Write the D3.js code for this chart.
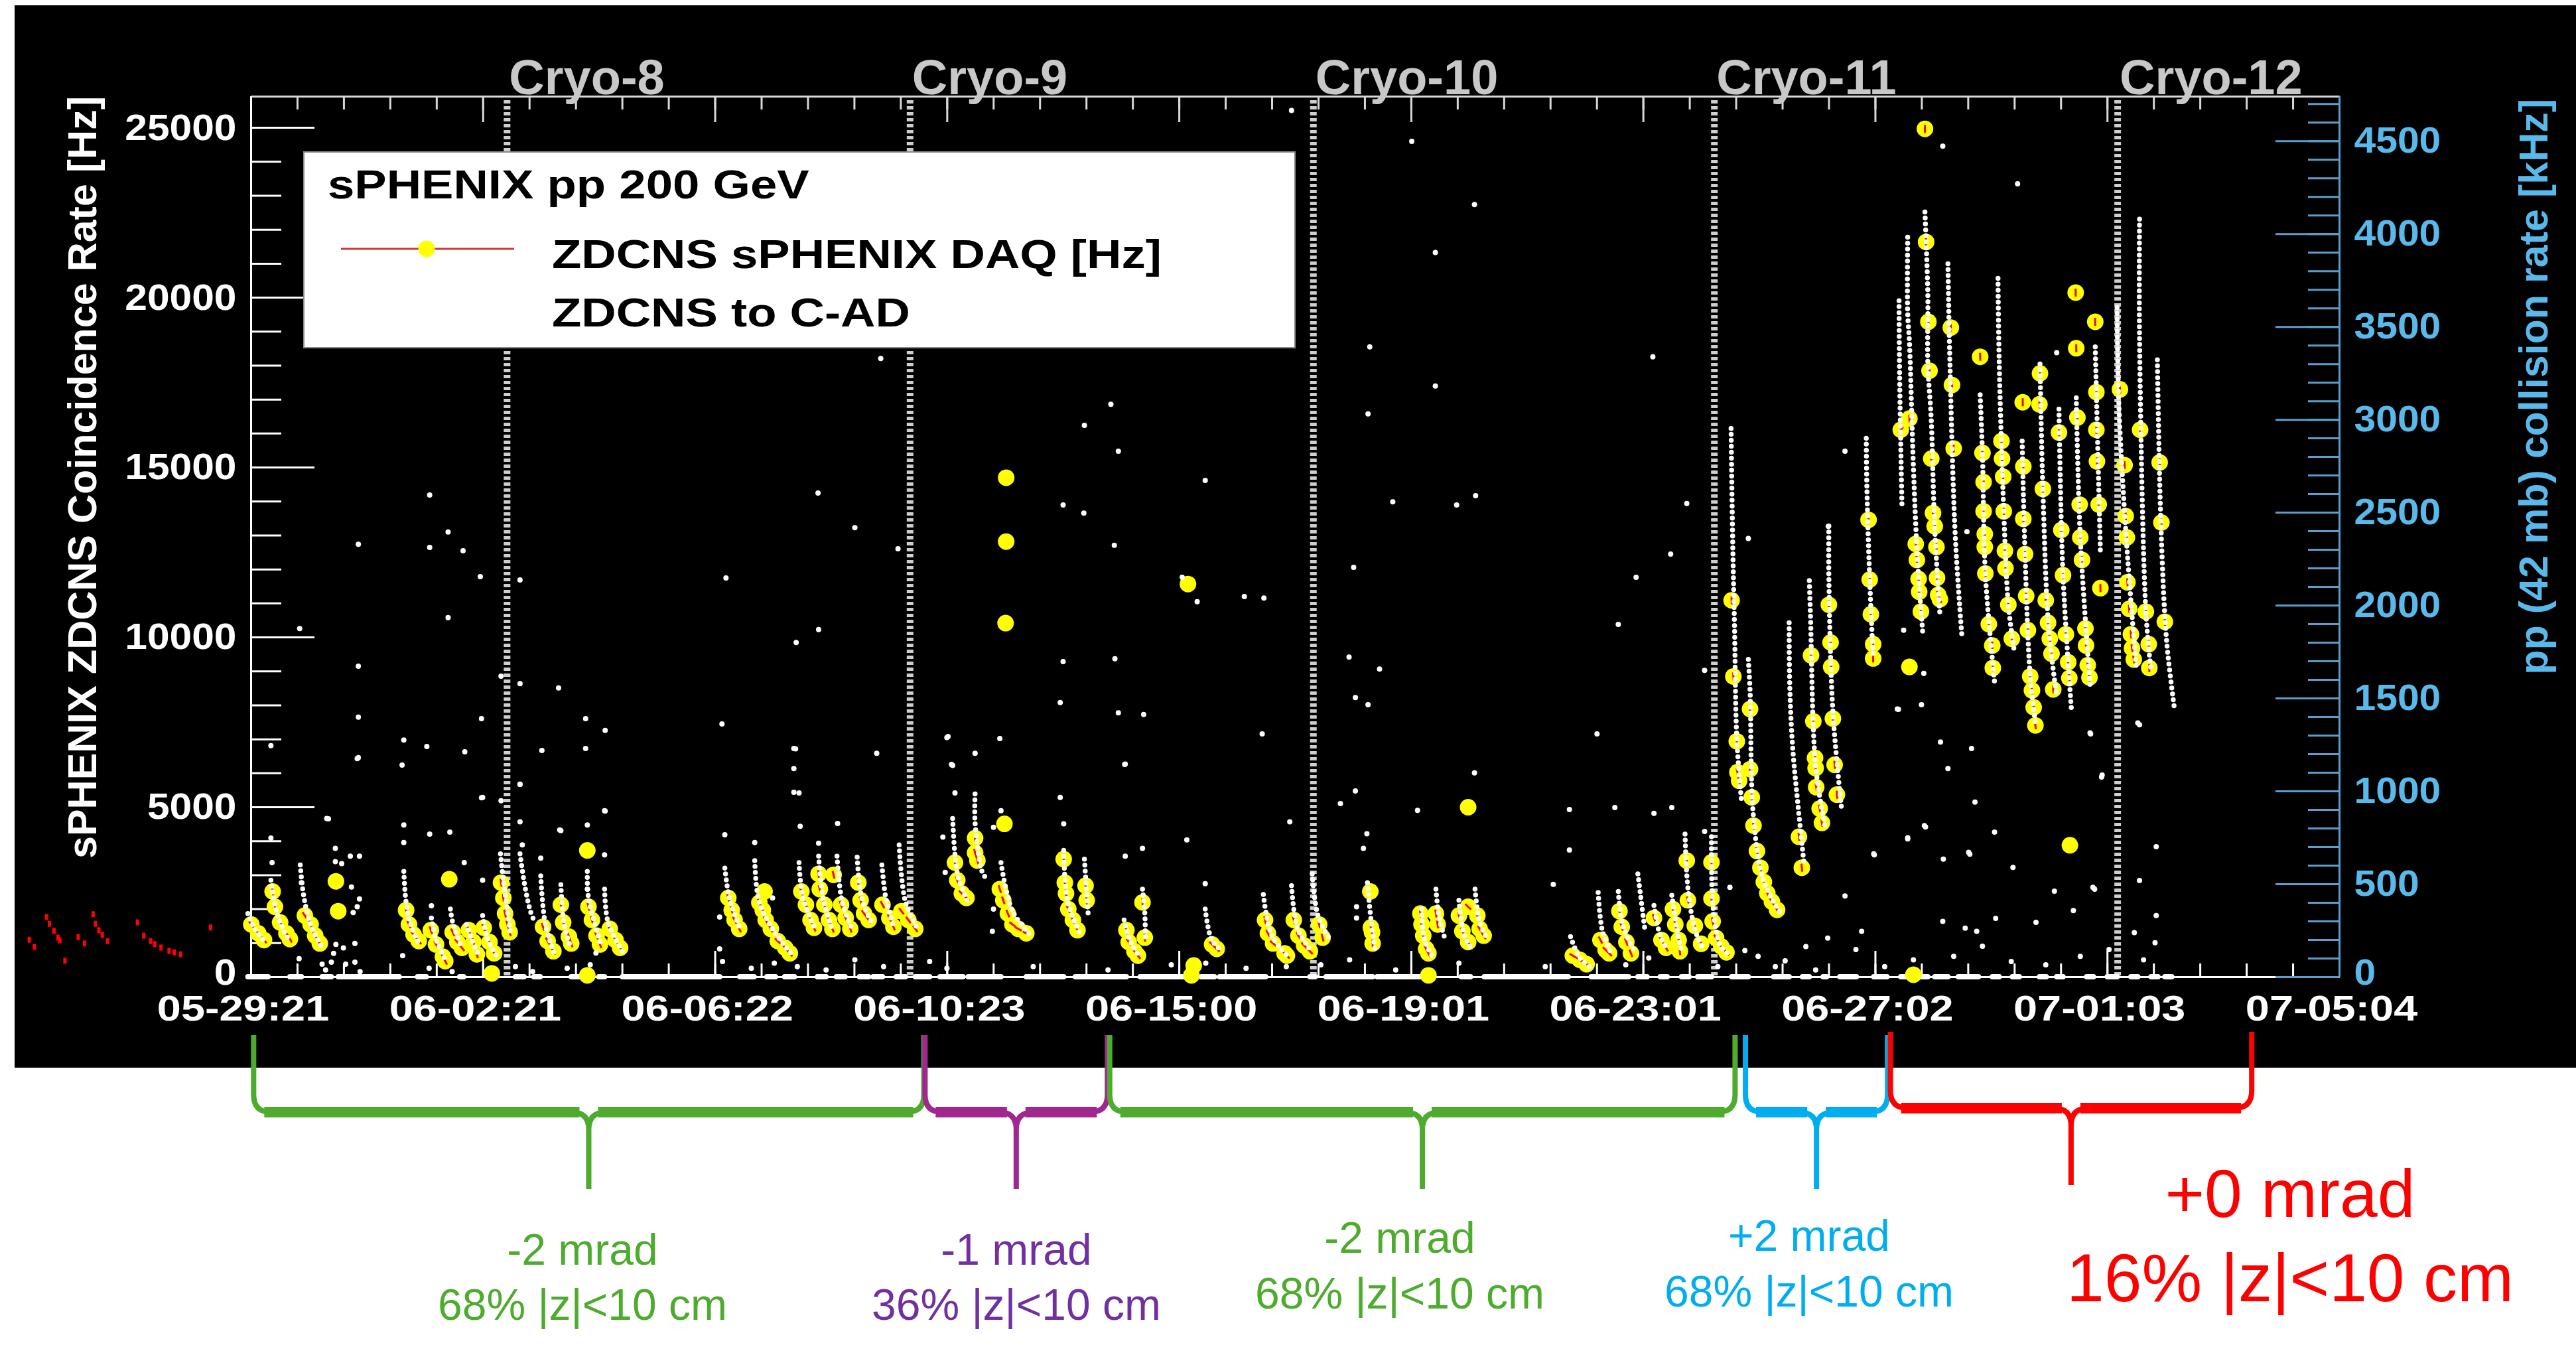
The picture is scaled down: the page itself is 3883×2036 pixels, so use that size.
<!DOCTYPE html>
<html>
<head>
<meta charset="utf-8">
<script src="https://cdn.jsdelivr.net/npm/d3@7"></script>
<style>
  body { margin: 0; background: #fff; }
  svg { display: block; font-family: "Liberation Sans", Arial, Helvetica, sans-serif; }
</style>
</head>
<body>
<svg id="chart"></svg>
<script>
// time is in days since 05-29 21:00, rates in Hz
const xSpanDays = 36.3;
const xTickLabels = ['05-29:21', '06-02:21', '06-06:22', '06-10:23', '06-15:00', '06-19:01', '06-23:01', '06-27:02', '07-01:03', '07-05:04'];
const yLeftTicks = [0, 5000, 10000, 15000, 20000, 25000];
const yRightTicks = [0, 500, 1000, 1500, 2000, 2500, 3000, 3500, 4000, 4500];

const cryoNames = ['Cryo-8', 'Cryo-9', 'Cryo-10', 'Cryo-11', 'Cryo-12'];
const cryoDays = [4.455, 11.46, 18.47, 25.44, 32.45];

const legendEntries = ['sPHENIX pp 200 GeV', 'ZDCNS sPHENIX DAQ [Hz]', 'ZDCNS to C-AD'];

const braceStart = [0.05, 11.72, 14.93, 25.98, 28.50];
const braceEnd = [11.70, 14.89, 25.80, 28.45, 34.78];
const braceAngles = ['-2 mrad', '-1 mrad', '-2 mrad', '+2 mrad', '+0 mrad'];
const braceFractions = ['68% |z|<10 cm', '36% |z|<10 cm', '68% |z|<10 cm', '68% |z|<10 cm', '16% |z|<10 cm'];

// ZDCNS sPHENIX DAQ, grouped by fill
const daqFills = [
    [[0.01,1540],[0.13,1280],[0.23,1080]],
    [[0.38,2510],[0.42,2060],[0.51,1600],[0.62,1280],[0.68,1110]],
    [[0.94,1800],[1.04,1540],[1.12,1210],[1.20,980]],
    [[2.70,1960],[2.75,1540],[2.83,1240],[2.92,1050]],
    [[3.13,1370],[3.22,950],[3.34,590],[3.38,460]],
    [[3.51,1310],[3.59,1020],[3.67,850]],
    [[3.79,1370],[3.87,1020],[3.93,660]],
    [[4.05,1440],[4.15,1020],[4.23,690]],
    [[4.35,2770],[4.39,2320],[4.42,1860],[4.46,1540],[4.50,1310]],
    [[5.08,1470],[5.16,1050],[5.26,750]],
    [[5.39,2120],[5.43,1600],[5.53,1180],[5.57,980]],
    [[5.87,2060],[5.93,1670],[6.01,1210],[6.07,950]],
    [[6.24,1410],[6.34,1080],[6.42,850]],
    [[8.30,2320],[8.36,1960],[8.41,1670],[8.49,1410]],
    [[8.84,2180],[8.90,1960],[8.95,1670],[9.04,1410],[9.16,1050],[9.29,850],[9.37,690]],
    [[9.57,2510],[9.65,2120],[9.73,1670],[9.79,1440]],
    [[9.87,3030],[9.89,2580],[9.97,2120],[10.05,1670],[10.11,1410]],
    [[10.13,3000],[10.26,2120],[10.34,1730],[10.42,1410]],
    [[10.56,2770],[10.60,2250],[10.66,1860],[10.74,1670]],
    [[10.98,2120],[11.10,1730],[11.17,1470]],
    [[11.31,1930],[11.43,1670],[11.55,1410]],
    [[12.24,3360],[12.28,2840],[12.36,2450],[12.44,2320]],
    [[12.59,4080],[12.59,3650],[12.63,3420]],
    [[13.02,2580],[13.08,2250],[13.16,1860],[13.24,1540],[13.34,1410],[13.48,1280]],
    [[14.13,3460],[14.15,2770],[14.17,2450],[14.21,1990],[14.29,1670],[14.37,1370]],
    [[14.51,2680],[14.53,2250]],
    [[15.22,1370],[15.26,1020],[15.36,750],[15.42,620]],
    [[15.50,2190],[15.54,1150]],
    [[16.71,950],[16.79,820]],
    [[17.63,1670],[17.68,1280],[17.77,980],[17.97,690],[18.01,620]],
    [[18.13,1670],[18.21,1210],[18.31,920],[18.41,750]],
    [[18.57,1540],[18.63,1150]],
    [[19.47,1450],[19.49,1310],[19.50,980]],
    [[20.33,1860],[20.35,1540],[20.38,1210],[20.43,820],[20.47,690]],
    [[20.60,1860],[20.63,1540]],
    [[21.00,1800],[21.06,1340],[21.16,1020]],
    [[21.16,2060],[21.32,1800],[21.36,1410],[21.43,1210]],
    [[22.98,620],[23.10,500],[23.22,370]],
    [[23.46,1080],[23.55,790],[23.61,690]],
    [[23.79,1930],[23.83,1470],[23.91,1020],[23.99,690]],
    [[24.39,1730],[24.52,1080],[24.60,850]],
    [[24.72,1990],[24.76,1540],[24.82,1080],[24.84,750]],
    [[24.96,3420],[24.98,2250],[25.10,1500],[25.21,970]],
    [[25.39,3370],[25.39,2300],[25.41,1630],[25.47,1140],[25.56,890],[25.65,720]],
    [[25.74,11080],[25.77,8840],[25.83,6930],[25.84,6020],[25.87,5770]],
    [[26.06,7880],[26.06,6110],[26.09,5280],[26.12,4450],[26.18,3700],[26.24,3210],[26.30,2790],[26.36,2460],[26.44,2210],[26.53,1970]],
    [[26.91,4120],[26.96,3210]],
    [[27.12,9460],[27.16,7520],[27.19,6440],[27.20,6140],[27.21,5580],[27.27,4950],[27.31,4530]],
    [[27.43,10950],[27.46,9840],[27.47,9120],[27.50,7600],[27.53,6240],[27.57,5360]],
    [[28.12,13450],[28.14,11690],[28.16,10670],[28.20,9790],[28.20,9370]],
    [[28.68,16100],[28.83,16430],[28.94,12740],[28.96,12270],[28.99,11710],[29.00,11330],[29.03,10750]],
    [[29.10,24960],[29.12,21630],[29.16,19280],[29.18,17840],[29.21,15250],[29.24,13650],[29.27,13260],[29.30,12650],[29.31,11740],[29.33,11240],[29.36,11110]],
    [[29.55,19110],[29.57,17420],[29.60,15550]],
    [[30.06,18250],[30.10,15420],[30.12,14560],[30.12,13700],[30.14,13030],[30.14,12650],[30.15,11870],[30.21,10380],[30.27,9750],[30.28,9090]],
    [[30.43,15770],[30.44,15250],[30.46,14720],[30.47,13700],[30.49,12540],[30.50,12020],[30.55,10950],[30.61,9950]],
    [[30.80,16910],[30.81,15020],[30.81,13480],[30.84,12440],[30.86,11210],[30.89,10200],[30.93,8840],[30.96,8430],[30.99,7930],[31.02,7400]],
    [[31.10,17760],[31.09,16850],[31.15,14360],[31.20,11080],[31.24,10420],[31.27,9950],[31.30,9510],[31.33,8460]],
    [[31.43,16020],[31.47,13150],[31.50,11820],[31.55,10080],[31.59,9260],[31.61,8790]],
    [[31.72,20140],[31.73,18500],[31.75,16460],[31.79,13900],[31.80,12930],[31.83,12270],[31.89,10250],[31.90,9750],[31.93,9170],[31.96,8810]],
    [[32.06,19280],[32.08,17210],[32.08,16100],[32.09,15170],[32.12,13900],[32.15,11440]],
    [[32.49,17290],[32.57,15060],[32.59,13560],[32.61,12930],[32.62,11610],[32.65,10830],[32.68,10080],[32.70,9670],[32.73,9340]],
    [[32.84,16100],[32.94,10750],[32.99,9790],[33.00,9090]],
    [[33.18,15140],[33.21,13370],[33.27,10450]]
];

const daqSingles = [[1.48,2810],[1.52,1930],[3.45,2870],[4.19,100],[5.85,3720],[5.85,40],[8.93,2510],
    [13.13,14690],[13.13,12810],[13.12,10410],[13.10,4500],[16.29,11560],[16.39,330],[16.35,40],
    [19.46,2510],[20.47,40],[21.16,4990],[28.83,9120],[28.90,60],[31.62,3870]];

// DAQ points left of the time axis start
const daqEarly = [[-3.85,1090],[-3.76,880],[-3.55,1760],[-3.50,1560],[-3.42,1350],[-3.35,1150],[-3.32,1070],[-3.23,470],
    [-3.00,1170],[-2.89,980],[-2.74,1840],[-2.70,1560],[-2.64,1370],[-2.58,1230],[-2.49,1050],[-1.97,1600],
    [-1.86,1210],[-1.74,1050],[-1.67,960],[-1.56,860],[-1.42,760],[-1.33,720],[-1.22,660],[-0.70,1450]];

// ZDCNS to C-AD, grouped by fill
const cadFills = [
    [[-0.05,1860],[0.07,1410],[0.27,980]],
    [[0.35,2840],[0.41,2190],[0.51,1600],[0.68,1020]],
    [[0.86,3290],[0.92,2380],[1.04,1540],[1.22,920]],
    [[2.66,3100],[2.70,2190],[2.78,1540],[2.94,920]],
    [[3.14,1730],[3.22,1110],[3.38,500]],
    [[3.47,1990],[3.51,1600],[3.67,820]],
    [[3.75,1540],[3.85,1050],[3.95,690]],
    [[4.03,1800],[4.12,1100],[4.27,620]],
    [[4.34,3620],[4.39,2840],[4.52,1210]],
    [[4.68,3620],[4.76,2710],[4.86,1930],[4.92,1670]],
    [[5.04,2970],[5.12,1540],[5.28,660]],
    [[5.39,2710],[5.45,1500],[5.57,820]],
    [[5.85,3100],[5.87,2320],[6.09,920]],
    [[6.15,2580],[6.21,1600],[6.46,750]],
    [[8.24,3200],[8.32,2320],[8.52,1340]],
    [[8.76,3420],[8.84,2190],[9.12,1280],[9.41,660]],
    [[9.53,3360],[9.60,2300],[9.81,1410]],
    [[9.87,3550],[9.95,2300],[10.11,1370]],
    [[10.19,3550],[10.28,2200],[10.46,1370]],
    [[10.54,3520],[10.62,2300],[10.78,1630]],
    [[10.97,3290],[11.05,2200],[11.19,1410]],
    [[11.27,3880],[11.38,2200],[11.59,1410]],
    [[12.20,4660],[12.24,3600],[12.30,2900],[12.45,2250]],
    [[12.59,5380],[12.59,4530],[12.71,3100],[12.78,2900]],
    [[13.04,3360],[13.24,1930],[13.56,1210]],
    [[14.13,3720],[14.20,2200],[14.41,1280]],
    [[14.49,3460],[14.56,1730]],
    [[15.18,1670],[15.30,1000],[15.46,560]],
    [[15.50,2580],[15.54,1860],[15.55,1100]],
    [[16.59,1990],[16.70,1100],[16.88,750]],
    [[17.60,2420],[17.75,1200],[18.05,560]],
    [[18.09,2680],[18.20,1400],[18.45,720]],
    [[18.45,3030],[18.55,1800],[18.76,1080]],
    [[19.41,2770],[19.47,1700],[19.54,820]],
    [[20.35,1990],[20.40,1100],[20.55,560]],
    [[20.60,2580],[20.66,1700],[20.76,1110]],
    [[21.00,2250],[21.08,1300],[21.20,850]],
    [[21.28,2580],[21.36,1600],[21.48,1150]],
    [[22.94,1180],[23.10,560],[23.34,200]],
    [[23.42,2480],[23.50,1300],[23.67,620]],
    [[23.77,2510],[23.85,1500],[24.07,690]],
    [[24.11,3030],[24.23,1410]],
    [[24.39,2100],[24.50,1200],[24.62,800]],
    [[24.70,2400],[24.80,1300],[24.88,700]],
    [[24.93,4200],[24.98,2600],[25.10,1400],[25.22,900]],
    [[25.39,4120],[25.42,2000],[25.55,900],[25.71,640]],
    [[25.73,16140],[25.76,12660],[25.79,10330],[25.83,7000],[25.91,5200]],
    [[26.03,9340],[26.06,8430],[26.12,4700],[26.30,2800],[26.59,1880]],
    [[26.74,10420],[26.75,8590],[26.80,6770],[26.89,5110],[27.00,3290]],
    [[27.09,11660],[27.11,10660],[27.20,6200],[27.36,4450]],
    [[27.43,13270],[27.43,11770],[27.50,7800],[27.65,4950]],
    [[28.08,15850],[28.09,14440],[28.14,11700],[28.20,9400]],
    [[28.65,19900],[28.66,17670],[28.70,13900]],
    [[28.80,21770],[28.80,19530],[28.83,18700],[28.90,15000],[28.97,12300],[29.06,10170]],
    [[29.10,22510],[29.15,20110],[29.15,18070],[29.21,16380],[29.27,13200],[29.36,10670]],
    [[29.50,20990],[29.53,18370],[29.62,13230],[29.70,11000],[29.74,10080]],
    [[30.06,17130],[30.10,15400],[30.15,11870],[30.31,8680]],
    [[30.37,20560],[30.39,18160],[30.47,13700],[30.55,10950],[30.65,9620]],
    [[30.79,15770],[30.84,12440],[30.93,8840],[31.03,7350]],
    [[31.10,18040],[31.15,14360],[31.25,10300],[31.39,8260]],
    [[31.43,16710],[31.50,11820],[31.65,7770]],
    [[31.73,17040],[31.80,12930],[31.97,8590]],
    [[32.06,18540],[32.15,12490]],
    [[32.44,19700],[32.47,16880],[32.60,12900],[32.77,9170]],
    [[32.83,22300],[32.83,18830],[32.94,10750],[33.03,9010]],
    [[33.14,18160],[33.20,13400],[33.30,9900],[33.44,7850]]
];

const cadStray = [[0.85,10250],[0.35,6800],[0.35,4080],[0.37,3360],[0.88,2770],[0.84,530],[1.87,12730],[1.87,9140],
    [1.87,7640],[1.87,6450],[1.35,4650],[1.32,4660],[1.47,3780],[1.47,3390],[1.58,3330],[1.73,3550],[1.89,3550],
    [1.75,2640],[1.89,2290],[1.85,2060],[1.78,1890],[1.48,950],[1.61,850],[1.81,980],[1.44,690],[1.24,370],
    [1.40,430],[1.65,370],[1.81,430],[1.85,6420],[3.11,14180],[3.11,12640],[3.43,13090],[3.43,10570],[3.69,12540],
    [3.99,11780],[4.01,7600],[4.01,5270],[2.66,6970],[2.63,6230],[3.06,6780],[3.11,4200],[3.46,4260],[3.72,6620],
    [4.35,8850],[4.68,11680],[4.68,8630],[4.68,5660],[5.06,6660],[5.35,8500],[5.37,4320],[5.82,7600],[5.82,6720],
    [6.16,7250],[6.16,4880],[2.66,4470],[2.66,3950],[2.64,620],[3.14,2090],[3.71,3360],[4.03,2840],[4.03,5280],
    [4.35,5180],[4.68,5670],[4.68,4560],[4.72,3880],[5.04,3490],[5.39,4300],[5.85,4470],[5.85,2580],[6.15,4890],
    [6.15,3590],[8.26,11740],[8.19,7440],[8.24,4180],[8.15,1760],[8.15,820],[8.76,3950],[9.07,2320],[9.55,4430],
    [9.53,5410],[9.47,6710],[9.87,3930],[9.86,14240],[9.87,10220],[9.48,9840],[9.44,6720],[9.44,6130],[9.44,5430],
    [10.50,13220],[10.20,4510],[12.20,6220],[12.10,7040],[12.24,5410],[12.03,4110],[12.07,3070],[11.25,12600],
    [10.88,6580],[10.95,18200],[12.12,7070],[12.18,6250],[12.59,6580],[13.02,7010],[13.04,4890],[12.91,4400],
    [12.91,1990],[12.89,1340],[14.07,5280],[14.13,4500],[15.20,3550],[15.20,6260],[15.50,3780],[16.27,4030],
    [16.59,2740],[18.06,4560],[14.12,13890],[14.48,13650],[15.01,12700],[16.59,14610],[16.19,11760],[16.45,11040],
    [17.27,11190],[17.61,11150],[14.12,9280],[14.07,8070],[15.02,9360],[15.08,7770],[15.52,7720],[15.19,6250],
    [17.58,7150],[14.95,16850],[14.49,16230],[15.08,15470],[18.09,25500],[20.18,24590],[21.27,22730],[20.59,21320],
    [19.45,18540],[24.37,18250],[20.59,17390],[19.42,16570],[19.85,13980],[20.96,13890],[21.29,14160],[19.17,12050],
    [19.09,9410],[19.20,8220],[19.42,8010],[19.62,9060],[24.96,13930],[24.68,12440],[24.08,11760],[23.77,10370],
    [25.27,9020],[23.40,7150],[21.27,6000],[18.94,5100],[19.20,5470],[20.28,4900],[22.92,4920],[22.92,3730],
    [22.64,2720],[23.71,4980],[24.39,4810],[24.70,4980],[19.34,3780],[19.40,4210],[19.22,2060],[19.22,1730],
    [25.27,4280],[25.71,2630],[25.97,770],[26.03,12900],[27.42,13260],[27.71,15470],[28.73,10200],[29.08,8930],
    [29.04,8010],[28.64,7870],[29.37,6910],[29.50,6130],[29.97,5140],[30.31,4260],[29.91,6720],[29.11,4410],
    [28.80,4060],[28.22,3590],[29.42,3460],[29.88,3610],[30.63,3220],[31.35,2520],[31.68,1950],[32.05,2580],
    [31.98,7150],[32.17,5880],[32.83,2830],[33.12,3830],[32.83,7420],[29.41,24450],[30.71,23340],[29.83,13100],
    [31.39,18370],[32.80,7470],[33.12,1800],[32.74,1300],[31.03,1600],[30.33,1720],[30.00,1340],[29.80,1430],
    [29.41,1630],[29.09,4450],[28.21,3620],[28.00,1340],[27.71,2380],[27.41,1140],[27.03,890],[26.67,470],
    [28.62,7880],[28.80,4090],[29.86,3660],[31.97,7180],[32.18,5940],[32.02,2630],
    [1.30,200],[1.90,150],[3.10,250],[3.50,150],[4.60,300],[4.90,150],[5.50,250],[5.90,350],[6.00,700],[8.20,450],
    [8.70,250],[9.10,400],[9.50,300],[10.00,200],[10.50,500],[11.00,300],[11.80,450],[12.10,250],[13.60,300],
    [14.90,200],[16.00,350],[16.60,400],[17.30,250],[18.00,300],[18.60,350],[19.10,500],[19.90,200],[21.00,400],
    [22.50,300],[23.90,350],[24.30,550],[25.50,300],[26.20,600],[26.50,300],[27.20,200],[27.90,800],[28.40,300],
    [28.90,500],[29.60,600],[30.10,900],[30.60,450],[31.20,350],[31.80,600],[32.30,800],[32.90,500],[33.10,1000]];

// intervals where the C-AD rate sits at zero
const cadZeroRuns = [[-0.05,0.30],[0.68,0.88],[1.24,1.40],[1.52,2.58],[2.90,3.05],[3.63,3.70],[4.60,4.75],[4.92,5.03],
    [5.57,5.85],[6.05,6.15],[6.46,8.15],[8.50,8.75],[8.97,9.12],[9.28,9.45],[9.85,10.00],[10.18,10.33],[10.58,10.74],
    [10.82,10.98],[11.22,11.38],[11.55,11.80],[11.98,12.38],[12.47,13.04],[13.48,14.13],[14.33,15.22],[15.46,16.27],
    [16.52,16.75],[16.84,17.64],[18.41,18.50],[18.69,19.50],[19.58,20.47],[21.04,21.20],[21.44,22.90],[23.30,23.95],
    [24.11,24.27],[24.50,24.62],[24.87,25.00],[25.15,25.39],[25.74,26.03],[26.47,26.74],[26.97,27.09],[27.33,27.39],
    [27.62,27.91],[28.21,28.44],[28.68,28.80],[29.03,29.15],[29.27,29.50],[29.68,30.03],[30.27,30.39],[30.62,30.74],
    [31.09,31.21],[31.39,31.50],[31.91,32.03],[32.27,32.44],[32.68,32.80],[33.03,33.15],[33.27,33.39]];

class RatePlot {
    constructor(_config, _data) {
        this.config = {
            parentElement: _config.parentElement,
            width: 3883,
            height: 2036,
            panel: { x: 22, y: 8, width: 3861, height: 1601 },
            plot: { left: 378, right: 3526, top: 145, bottom: 1472 },
            yLeftMax: 25920,
            yRightMax: 4740,
            legend: { x: 458, y: 229, width: 1494, height: 295, textX: 832, rows: [299, 404, 492] },
            braceTop: 1560,
            braceBand: 1676,
            braceTip: 1792,
            braceColors: ['#4dab2e', '#a1278f', '#4dab2e', '#00aeef', '#ff0000'],
            braceTextColors: ['#4dab2e', '#7030a0', '#4dab2e', '#00aeef', '#ff0000'],
            braceLabelX: [878, 1532, 2110, 2727, 3452],
            braceLine1: [1906, 1906, 1888, 1885, 1834],
            braceLine2: [1989, 1989, 1972, 1969, 1961],
            braceFont: [66, 66, 66, 66, 102],
            daqRadius: 12.5,
            blue: '#58b9ea',
            blueAxis: '#5a9fcc'
        };
        this.data = _data;
        this.initVis();
    }

    initVis() {
        let vis = this;
        const c = vis.config;

        vis.svg = d3.select(c.parentElement)
            .attr('width', c.width)
            .attr('height', c.height);

        vis.svg.append('rect')
            .attr('x', c.panel.x).attr('y', c.panel.y)
            .attr('width', c.panel.width).attr('height', c.panel.height)
            .attr('fill', '#000');

        vis.xScale = d3.scaleLinear().domain([0, xSpanDays]).range([c.plot.left, c.plot.right]);
        vis.yScale = d3.scaleLinear().domain([0, c.yLeftMax]).range([c.plot.bottom, c.plot.top]);
        vis.yRight = d3.scaleLinear().domain([0, c.yRightMax]).range([c.plot.bottom, c.plot.top]);

        vis.xStep = xSpanDays / 9;
        vis.xMajor = d3.range(10).map(i => i * vis.xStep);
        vis.xMinor = d3.range(46).map(i => i * vis.xStep / 5);

        vis.axesG = vis.svg.append('g');
        vis.dataG = vis.svg.append('g');
        vis.overG = vis.svg.append('g');

        vis.renderVis();
    }

    styleAxis(g, color, width) {
        g.selectAll('line').attr('stroke', color).attr('stroke-width', width);
        g.select('.domain').attr('stroke', color).attr('stroke-width', 3);
    }

    renderVis() {
        let vis = this;
        const c = vis.config;
        const x = vis.xScale, y = vis.yScale;

        // frame top with ticks
        const topMinor = vis.axesG.append('g').attr('transform', `translate(0,${c.plot.top})`)
            .call(d3.axisTop(x).tickValues(vis.xMinor).tickSize(-20).tickSizeOuter(0).tickFormat(''));
        vis.styleAxis(topMinor, '#d8d8d8', 3);
        const topMajor = vis.axesG.append('g').attr('transform', `translate(0,${c.plot.top})`)
            .call(d3.axisTop(x).tickValues(vis.xMajor).tickSize(-39).tickSizeOuter(0).tickFormat(''));
        vis.styleAxis(topMajor, '#d8d8d8', 3);
        topMajor.selectAll('text').remove();
        topMinor.selectAll('text').remove();

        // bottom time axis
        const botMinor = vis.axesG.append('g').attr('transform', `translate(0,${c.plot.bottom})`)
            .call(d3.axisBottom(x).tickValues(vis.xMinor).tickSize(-20).tickSizeOuter(0).tickFormat(''));
        vis.styleAxis(botMinor, '#fff', 3);
        botMinor.selectAll('text').remove();
        const botMajor = vis.axesG.append('g').attr('transform', `translate(0,${c.plot.bottom})`)
            .call(d3.axisBottom(x).tickValues(vis.xMajor).tickSize(-39).tickSizeOuter(0).tickPadding(28)
                .tickFormat((d, i) => xTickLabels[i]));
        vis.styleAxis(botMajor, '#fff', 3);
        botMajor.attr('font-size', 54).attr('font-family', null).attr('font-weight', 'bold');
        botMajor.selectAll('text').attr('fill', '#fff').attr('x', -10).attr('transform', 'scale(1.2,1)');

        // left rate axis
        const leftMinor = vis.axesG.append('g').attr('transform', `translate(${c.plot.left},0)`)
            .call(d3.axisLeft(y).tickValues(d3.range(0, 26000, 1000)).tickSize(-46).tickSizeOuter(0).tickFormat(''));
        vis.styleAxis(leftMinor, '#fff', 3);
        leftMinor.selectAll('text').remove();
        const leftMajor = vis.axesG.append('g').attr('transform', `translate(${c.plot.left},0)`)
            .call(d3.axisLeft(y).tickValues(yLeftTicks).tickSize(-96).tickSizeOuter(0).tickPadding(20)
                .tickFormat(d3.format('d')));
        vis.styleAxis(leftMajor, '#fff', 3);
        leftMajor.attr('font-size', 56).attr('font-family', null).attr('font-weight', 'bold');
        leftMajor.selectAll('text').attr('fill', '#fff').attr('transform', 'scale(1.08,1)')
            .attr('dy', d => d === 0 ? '0.2em' : '0.32em');

        // right collision rate axis
        const rightMinor = vis.axesG.append('g').attr('transform', `translate(${c.plot.right},0)`)
            .call(d3.axisRight(vis.yRight).tickValues(d3.range(0, 4800, 100)).tickSize(-47).tickSizeOuter(0).tickFormat(''));
        vis.styleAxis(rightMinor, c.blueAxis, 3);
        rightMinor.selectAll('text').remove();
        const rightMajor = vis.axesG.append('g').attr('transform', `translate(${c.plot.right},0)`)
            .call(d3.axisRight(vis.yRight).tickValues(yRightTicks).tickSize(-96).tickSizeOuter(0).tickPadding(21)
                .tickFormat(d3.format('d')));
        vis.styleAxis(rightMajor, c.blueAxis, 3);
        rightMajor.attr('font-size', 55).attr('font-family', null).attr('font-weight', 'bold');
        rightMajor.selectAll('text').attr('fill', c.blue).attr('transform', 'scale(1.07,1)')
            .attr('dy', d => d === 0 ? '0.2em' : '0.32em');

        // axis titles
        vis.axesG.append('text')
            .attr('transform', `translate(145,${c.plot.top}) rotate(-90)`)
            .attr('text-anchor', 'end').attr('font-size', 61).attr('font-weight', 'bold')
            .attr('fill', '#fff')
            .text('sPHENIX ZDCNS Coincidence Rate [Hz]');
        vis.axesG.append('text')
            .attr('transform', `translate(3840,149) rotate(-90)`)
            .attr('text-anchor', 'end').attr('font-size', 61).attr('font-weight', 'bold')
            .attr('fill', c.blue)
            .text('pp (42 mb) collision rate [kHz]');

        // cryo markers
        vis.axesG.selectAll('.cryo-line')
            .data(cryoDays)
            .join('line')
            .attr('class', 'cryo-line')
            .attr('x1', d => x(d)).attr('x2', d => x(d))
            .attr('y1', c.plot.top + 6).attr('y2', c.plot.bottom)
            .attr('stroke', '#cfcfcf').attr('stroke-width', 10)
            .attr('stroke-dasharray', '5,4');
        vis.axesG.selectAll('.cryo-label')
            .data(cryoDays)
            .join('text')
            .attr('class', 'cryo-label')
            .attr('x', d => x(d) + 3).attr('y', 142)
            .attr('font-size', 74).attr('font-weight', 'bold').attr('fill', '#c8c8c8')
            .text((d, i) => cryoNames[i]);

        // C-AD zero stretches along the axis
        vis.dataG.selectAll('.zero-run')
            .data(vis.data.cadZeroRuns)
            .join('line')
            .attr('class', 'zero-run')
            .attr('x1', d => x(d[0])).attr('x2', d => x(d[1]))
            .attr('y1', y(0)).attr('y2', y(0))
            .attr('stroke', '#fff').attr('stroke-width', 8).attr('stroke-linecap', 'round');

        // DAQ markers
        const daqAll = vis.data.daqFills.flat().concat(vis.data.daqSingles);
        vis.dataG.selectAll('.daq')
            .data(daqAll)
            .join('circle')
            .attr('class', 'daq')
            .attr('cx', d => x(d[0])).attr('cy', d => y(d[1]))
            .attr('r', c.daqRadius).attr('fill', '#ffff00');

        // red DAQ line showing through each marker
        const dashes = [];
        vis.data.daqFills.forEach(fill => {
            fill.forEach((d, i) => {
                const a = i === fill.length - 1 ? fill[i - 1] : fill[i];
                const b = i === fill.length - 1 ? fill[i] : fill[i + 1];
                const dx = x(b[0]) - x(a[0]), dy = y(b[1]) - y(a[1]);
                const len = Math.hypot(dx, dy) || 1;
                dashes.push({ cx: x(d[0]), cy: y(d[1]), ux: dx / len, uy: dy / len });
            });
        });
        vis.dataG.selectAll('.daq-line')
            .data(dashes)
            .join('line')
            .attr('class', 'daq-line')
            .attr('x1', d => d.cx - 6 * d.ux).attr('y1', d => d.cy - 6 * d.uy)
            .attr('x2', d => d.cx + 6 * d.ux).attr('y2', d => d.cy + 6 * d.uy)
            .attr('stroke', '#ff0000').attr('stroke-width', 3);

        vis.dataG.selectAll('.daq-early')
            .data(vis.data.daqEarly)
            .join('rect')
            .attr('class', 'daq-early')
            .attr('x', d => x(d[0]) - 2.5).attr('y', d => y(d[1]) - 4.5)
            .attr('width', 5).attr('height', 9)
            .attr('fill', '#ff0000');

        // C-AD fills as dotted chains
        const line = d3.line()
            .x(d => x(d[0]))
            .y(d => y(d[1]))
            .curve(d3.curveCatmullRom.alpha(0.5));
        vis.dataG.selectAll('.cad-fill')
            .data(vis.data.cadFills)
            .join('path')
            .attr('class', 'cad-fill')
            .attr('d', line)
            .attr('fill', 'none')
            .attr('stroke', '#fff').attr('stroke-width', 7.5)
            .attr('stroke-linecap', 'round')
            .attr('stroke-dasharray', '0,9');

        vis.dataG.selectAll('.cad-stray')
            .data(vis.data.cadStray)
            .join('circle')
            .attr('class', 'cad-stray')
            .attr('cx', d => x(d[0])).attr('cy', d => y(d[1]))
            .attr('r', 4).attr('fill', '#fff');

        // legend
        const lg = c.legend;
        const legendG = vis.overG.append('g');
        legendG.append('rect')
            .attr('x', lg.x).attr('y', lg.y).attr('width', lg.width).attr('height', lg.height)
            .attr('fill', '#fff').attr('stroke', '#888').attr('stroke-width', 2);
        legendG.append('line')
            .attr('x1', 514).attr('x2', 775).attr('y1', 375).attr('y2', 375)
            .attr('stroke', '#d03a2f').attr('stroke-width', 3);
        legendG.append('circle')
            .attr('cx', 643).attr('cy', 375).attr('r', c.daqRadius).attr('fill', '#ffff00');
        legendG.selectAll('.legend-text')
            .data(legendEntries)
            .join('text')
            .attr('class', 'legend-text')
            .attr('transform', (d, i) => `translate(${i === 0 ? 494 : lg.textX},${lg.rows[i]}) scale(1.17,1)`)
            .attr('font-size', 62).attr('font-weight', 'bold').attr('fill', '#000')
            .text(d => d);

        // crossing-angle braces under the panel
        braceStart.forEach((s, i) => {
            const x0 = x(s), x1 = x(braceEnd[i]), xc = (x0 + x1) / 2;
            const col = c.braceColors[i];
            const top = i === 4 ? c.braceTop - 5 : c.braceTop;
            const band = i === 4 ? c.braceBand - 6 : c.braceBand;
            const tip = i === 4 ? c.braceTip - 6 : c.braceTip;
            const r = 26;
            const path = `M${x0},${top} L${x0},${band - r} Q${x0},${band} ${x0 + r},${band} L${xc - r},${band} ` +
                `Q${xc},${band} ${xc},${band + r} L${xc},${tip} ` +
                `M${x1},${top} L${x1},${band - r} Q${x1},${band} ${x1 - r},${band} L${xc + r},${band} ` +
                `Q${xc},${band} ${xc},${band + r}`;
            vis.overG.append('path')
                .attr('d', path)
                .attr('fill', 'none').attr('stroke', col).attr('stroke-width', 8);
            vis.overG.append('line')
                .attr('x1', x0 + 16).attr('x2', xc - 14).attr('y1', band).attr('y2', band)
                .attr('stroke', col).attr('stroke-width', 16);
            vis.overG.append('line')
                .attr('x1', xc + 14).attr('x2', x1 - 16).attr('y1', band).attr('y2', band)
                .attr('stroke', col).attr('stroke-width', 16);

            vis.overG.append('text')
                .attr('x', c.braceLabelX[i]).attr('y', c.braceLine1[i])
                .attr('text-anchor', 'middle').attr('font-size', c.braceFont[i])
                .attr('fill', c.braceTextColors[i])
                .text(braceAngles[i]);
            vis.overG.append('text')
                .attr('x', c.braceLabelX[i]).attr('y', c.braceLine2[i])
                .attr('text-anchor', 'middle').attr('font-size', c.braceFont[i])
                .attr('fill', c.braceTextColors[i])
                .text(braceFractions[i]);
        });
    }
}

new RatePlot({ parentElement: '#chart' }, { daqFills, daqSingles, daqEarly, cadFills, cadStray, cadZeroRuns });
</script>
</body>
</html>
